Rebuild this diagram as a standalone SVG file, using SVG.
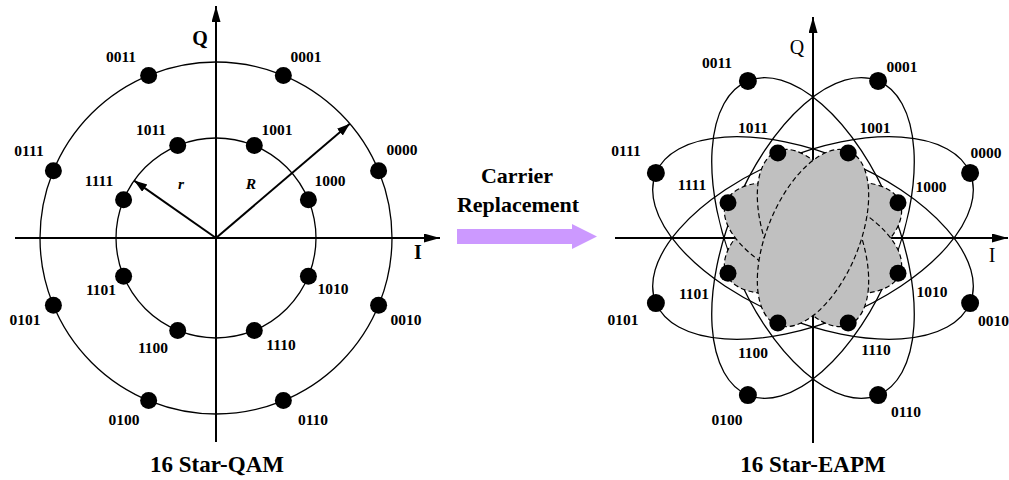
<svg xmlns="http://www.w3.org/2000/svg" width="1009" height="480" viewBox="0 0 1009 480">
<style>
.ax{stroke:#000;stroke-width:2;fill:none}
.circ{stroke:#000;stroke-width:1.3;fill:none}
.el{stroke:#000;stroke-width:1.3;fill:none}
.gr{stroke:#000;stroke-width:1.2;fill:#c0c0c0;stroke-dasharray:5 3}
.dot{fill:#000}
.lb{font-family:"Liberation Serif","Times New Roman",serif;font-weight:bold;font-size:15.5px;text-anchor:middle;fill:#000}
.ttl{font-family:"Liberation Serif","Times New Roman",serif;font-weight:bold;font-size:23px;text-anchor:middle;fill:#000}
.axl{font-family:"Liberation Serif","Times New Roman",serif;font-weight:bold;font-size:20px;text-anchor:middle;fill:#000}
.axn{font-family:"Liberation Serif","Times New Roman",serif;font-size:20px;text-anchor:middle;fill:#000}
.it{font-family:"Liberation Serif","Times New Roman",serif;font-weight:bold;font-style:italic;font-size:15.5px;text-anchor:middle;fill:#000}
</style>
<defs>
<marker id="ah" markerUnits="userSpaceOnUse" markerWidth="18" markerHeight="10" refX="16" refY="4.5" orient="auto">
<path d="M0,0 L16,4.5 L0,9 Z" fill="#000"/>
</marker>
<marker id="ah2" markerUnits="userSpaceOnUse" markerWidth="16" markerHeight="10" refX="13" refY="4.5" orient="auto">
<path d="M0,0 L13,4.5 L0,9 Z" fill="#000"/>
</marker>
</defs>
<rect width="1009" height="480" fill="#fff"/>

<!-- Left: 16 Star-QAM -->
<g id="qam-axes">
<line class="ax" x1="15" y1="238" x2="440" y2="238" marker-end="url(#ah)"/>
<line class="ax" x1="216" y1="442" x2="216" y2="6" marker-end="url(#ah)"/>
<text class="axl" x="200" y="45">Q</text>
<text class="axl" x="418" y="259">I</text>
</g>
<g id="qam-rings">
<circle class="circ" cx="216" cy="238" r="176"/>
<circle class="circ" cx="216" cy="238" r="100"/>
</g>
<g id="qam-radii">
<line class="ax" x1="216" y1="238" x2="134.1" y2="180.6" marker-end="url(#ah2)"/>
<line class="ax" x1="216" y1="238" x2="349.8" y2="123.7" marker-end="url(#ah2)"/>
<text class="it" x="181" y="189">r</text>
<text class="it" x="251" y="189">R</text>
</g>
<g id="qam-points">
<circle class="dot" cx="378.6" cy="170.65" r="8.5"/>
<circle class="dot" cx="283.35" cy="75.4" r="8.5"/>
<circle class="dot" cx="148.65" cy="75.4" r="8.5"/>
<circle class="dot" cx="53.4" cy="170.65" r="8.5"/>
<circle class="dot" cx="53.4" cy="305.35" r="8.5"/>
<circle class="dot" cx="148.65" cy="400.6" r="8.5"/>
<circle class="dot" cx="283.35" cy="400.6" r="8.5"/>
<circle class="dot" cx="378.6" cy="305.35" r="8.5"/>
<circle class="dot" cx="308.4" cy="199.7" r="8.5"/>
<circle class="dot" cx="254.3" cy="145.6" r="8.5"/>
<circle class="dot" cx="177.7" cy="145.6" r="8.5"/>
<circle class="dot" cx="123.6" cy="199.7" r="8.5"/>
<circle class="dot" cx="123.6" cy="276.3" r="8.5"/>
<circle class="dot" cx="177.7" cy="330.4" r="8.5"/>
<circle class="dot" cx="254.3" cy="330.4" r="8.5"/>
<circle class="dot" cx="308.4" cy="276.3" r="8.5"/>
</g>
<g id="qam-labels">
<text class="lb" x="121" y="62">0011</text>
<text class="lb" x="306" y="62">0001</text>
<text class="lb" x="151" y="135">1011</text>
<text class="lb" x="277" y="135">1001</text>
<text class="lb" x="29" y="156">0111</text>
<text class="lb" x="402" y="155">0000</text>
<text class="lb" x="99" y="186">1111</text>
<text class="lb" x="330" y="186">1000</text>
<text class="lb" x="101" y="295">1101</text>
<text class="lb" x="333" y="294">1010</text>
<text class="lb" x="25" y="325">0101</text>
<text class="lb" x="406" y="325">0010</text>
<text class="lb" x="153" y="353">1100</text>
<text class="lb" x="281" y="350">1110</text>
<text class="lb" x="124" y="425">0100</text>
<text class="lb" x="313" y="425">0110</text>
<text class="ttl" x="217" y="472">16 Star-QAM</text>
</g>

<!-- Middle arrow -->
<g id="carrier-replacement">
<text class="ttl" x="517" y="183" style="font-size:22px">Carrier</text>
<text class="ttl" x="518" y="212" style="font-size:22px">Replacement</text>
<path d="M457,229 L572,229 L572,224 L597,236.5 L572,249 L572,244 L457,244 Z" fill="#cc99ff"/>
</g>

<!-- Right: 16 Star-EAPM -->
<g id="eapm-axes">
<line class="ax" x1="615" y1="238" x2="1008" y2="238" marker-end="url(#ah)"/>
<line class="ax" x1="813" y1="443" x2="813" y2="17" marker-end="url(#ah)"/>
<text class="axn" x="797" y="54">Q</text>
<text class="axn" x="992" y="262">I</text>
</g>
<g id="eapm-outer-ellipses">
<ellipse class="el" cx="813" cy="238" rx="170" ry="84" transform="rotate(-22.5 813 238)"/>
<ellipse class="el" cx="813" cy="238" rx="170" ry="84" transform="rotate(-67.5 813 238)"/>
<ellipse class="el" cx="813" cy="238" rx="170" ry="84" transform="rotate(67.5 813 238)"/>
<ellipse class="el" cx="813" cy="238" rx="170" ry="84" transform="rotate(22.5 813 238)"/>
</g>
<g id="eapm-inner-ellipses">
<ellipse class="gr" cx="813" cy="238" rx="94" ry="46" transform="rotate(-22.5 813 238)"/>
<ellipse class="gr" cx="813" cy="238" rx="94" ry="46" transform="rotate(22.5 813 238)"/>
<ellipse class="gr" cx="813" cy="238" rx="94" ry="46" transform="rotate(67.5 813 238)"/>
<ellipse class="gr" cx="813" cy="238" rx="94" ry="46" transform="rotate(-67.5 813 238)"/>
</g>
<g id="eapm-points">
<circle class="dot" cx="970.1" cy="172.9" r="9"/>
<circle class="dot" cx="878.1" cy="80.9" r="9"/>
<circle class="dot" cx="747.9" cy="80.9" r="9"/>
<circle class="dot" cx="655.9" cy="172.9" r="9"/>
<circle class="dot" cx="655.9" cy="303.1" r="9"/>
<circle class="dot" cx="747.9" cy="395.1" r="9"/>
<circle class="dot" cx="878.1" cy="395.1" r="9"/>
<circle class="dot" cx="970.1" cy="303.1" r="9"/>
<circle class="dot" cx="898" cy="202.8" r="8.5"/>
<circle class="dot" cx="848.2" cy="153" r="8.5"/>
<circle class="dot" cx="777.8" cy="153" r="8.5"/>
<circle class="dot" cx="728" cy="202.8" r="8.5"/>
<circle class="dot" cx="728" cy="273.2" r="8.5"/>
<circle class="dot" cx="777.8" cy="323" r="8.5"/>
<circle class="dot" cx="848.2" cy="323" r="8.5"/>
<circle class="dot" cx="898" cy="273.2" r="8.5"/>
</g>
<g id="eapm-labels">
<text class="lb" x="717" y="68">0011</text>
<text class="lb" x="902" y="72">0001</text>
<text class="lb" x="753" y="133">1011</text>
<text class="lb" x="875" y="133">1001</text>
<text class="lb" x="626" y="156">0111</text>
<text class="lb" x="986" y="158">0000</text>
<text class="lb" x="692" y="190">1111</text>
<text class="lb" x="931" y="192">1000</text>
<text class="lb" x="694" y="299">1101</text>
<text class="lb" x="932" y="297">1010</text>
<text class="lb" x="623" y="325">0101</text>
<text class="lb" x="978" y="326" style="text-anchor:start">0010</text>
<text class="lb" x="753" y="358">1100</text>
<text class="lb" x="876" y="355">1110</text>
<text class="lb" x="727" y="425">0100</text>
<text class="lb" x="906" y="417">0110</text>
<text class="ttl" x="813" y="472">16 Star-EAPM</text>
</g>
</svg>
